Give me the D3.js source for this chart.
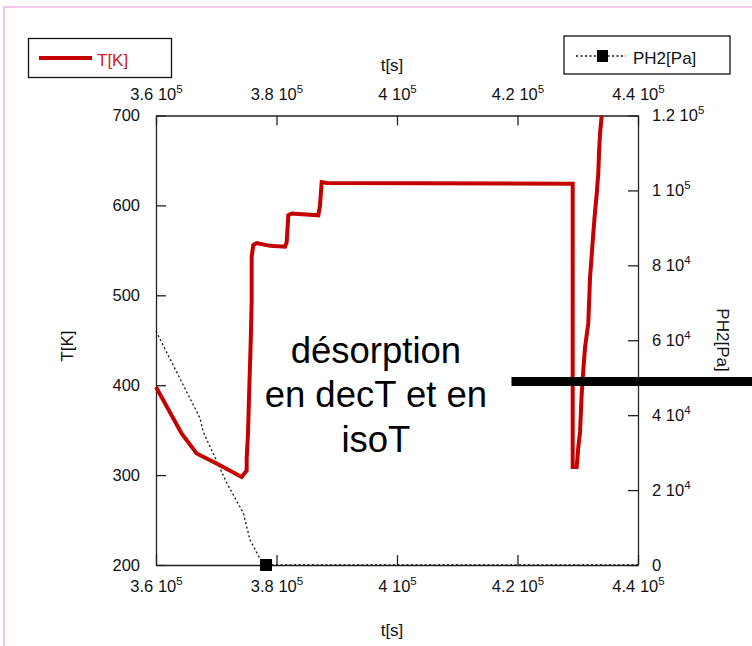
<!DOCTYPE html>
<html>
<head>
<meta charset="utf-8">
<script src="https://cdn.jsdelivr.net/npm/d3@7"></script>
<style>
	body { margin:0; background:#fff; }
	svg text { font-family:"Liberation Sans", Arial, sans-serif; fill:#111; }
</style>
</head>
<body>
<svg id="chart" width="752" height="646"></svg>
<script>

// temperature curve, t in s, T in K
var tempTime = [360000, 364270, 366750, 370620, 374220, 375050, 375050, 375270, 375440, 375720,
	375880, 375880, 376150, 376710, 378920, 381410, 381690, 381960, 382520, 386940,
	387220, 387500, 388330, 429160, 429160, 429830, 430090, 430380, 430660, 430920,
	431210, 431750, 432040, 432320, 432580, 432870, 433150, 433410, 433530, 433700, 433980];
var tempValues = [398, 346, 324, 311, 298, 305, 319, 346, 387, 448,
	494, 543, 556, 558, 555, 554, 559, 589, 591, 589,
	600, 626, 625, 624, 309, 309, 331, 348, 391, 417,
	442, 469, 520, 545, 569, 593, 613, 636, 658, 680, 700];

// hydrogen pressure, Pa
var pressTime = [360000, 367300, 367850, 371740, 374490, 375600, 377550, 378260, 440000];
var pressValues = [62400, 39200, 35500, 21900, 13900, 6700, 800, 0, 0];
var pressMarkTime = [378260];
var pressMarkValues = [0];

var xTicks = [360000, 380000, 400000, 420000, 440000];
var tTicks = [200, 300, 400, 500, 600, 700];
var pTicks = [0, 20000, 40000, 60000, 80000, 100000, 120000];

var noteLines = ["désorption", "en decT et en", "isoT"];
var noteBar = [[419000, 49000], [459000, 49000]];

var RED = "#c40000";

var svg = d3.select("#chart");
var W = 752, H = 646;
var plotL = 156, plotR = 638, plotT = 115.5, plotB = 565;

var x = d3.scaleLinear().domain([360000, 440000]).range([plotL, plotR]);
var yT = d3.scaleLinear().domain([200, 700]).range([plotB, plotT]);
var yP = d3.scaleLinear().domain([0, 120000]).range([plotB, plotT]);

// pink page border
svg.append("rect")
	.attr("x", 4).attr("y", 7)
	.attr("width", W + 20).attr("height", H + 20)
	.attr("fill", "none")
	.attr("stroke", "#f3c6ee")
	.attr("stroke-width", 2);

// "3.6 10^5" style labels
function sciLabel(sel)
{
	sel.each(function(d)
	{
		var t = d3.select(this);
		t.text(null);
		if (d == 0) { t.text("0"); return; }
		var e = Math.floor(Math.log10(d) + 1e-9);
		var m = +(d / Math.pow(10, e)).toFixed(2);
		t.append("tspan").text(m + " 10");
		t.append("tspan").attr("font-size", 11.5).attr("dy", -7).text(e);
	});
}

function styleAxis(g)
{
	g.attr("font-size", 16.5).attr("font-family", "Liberation Sans, Arial, sans-serif");
	g.select(".domain").attr("stroke", "#222").attr("stroke-width", 1.3);
	g.selectAll(".tick line").attr("stroke", "#222").attr("stroke-width", 1.3);
	g.selectAll(".tick text").attr("fill", "#111");
}

var xTop = svg.append("g")
	.attr("transform", "translate(0," + plotT + ")")
	.call(d3.axisTop(x).tickValues(xTicks).tickSizeInner(-10).tickSizeOuter(0).tickPadding(15.5));
styleAxis(xTop);
xTop.selectAll(".tick text").attr("dy", "0em").call(sciLabel);

var xBot = svg.append("g")
	.attr("transform", "translate(0," + plotB + ")")
	.call(d3.axisBottom(x).tickValues(xTicks).tickSizeInner(-10).tickSizeOuter(0).tickPadding(15.3));
styleAxis(xBot);
xBot.selectAll(".tick text").call(sciLabel);

var yLeft = svg.append("g")
	.attr("transform", "translate(" + plotL + ",0)")
	.call(d3.axisLeft(yT).tickValues(tTicks).tickSizeInner(-10).tickSizeOuter(0).tickPadding(16));
styleAxis(yLeft);

var yRight = svg.append("g")
	.attr("transform", "translate(" + plotR + ",0)")
	.call(d3.axisRight(yP).tickValues(pTicks).tickSizeInner(-10).tickSizeOuter(0).tickPadding(14));
styleAxis(yRight);
yRight.selectAll(".tick text").call(sciLabel);

// axis titles
svg.append("text").attr("x", 392).attr("y", 71).attr("text-anchor", "middle")
	.attr("font-size", 17).text("t[s]");
svg.append("text").attr("x", 392).attr("y", 636).attr("text-anchor", "middle")
	.attr("font-size", 17).text("t[s]");
svg.append("text").attr("transform", "translate(73,346) rotate(-90)").attr("text-anchor", "middle")
	.attr("font-size", 17).text("T[K]");
svg.append("text").attr("transform", "translate(717,340) rotate(90)").attr("text-anchor", "middle")
	.attr("font-size", 17).text("PH2[Pa]");

// series
var pData = d3.zip(pressTime, pressValues);
svg.append("path")
	.datum(pData)
	.attr("fill", "none")
	.attr("stroke", "#111")
	.attr("stroke-width", 1.3)
	.attr("stroke-dasharray", "2,2.5")
	.attr("d", d3.line().x(function(d){ return x(d[0]); }).y(function(d){ return yP(d[1]); }));

svg.append("g").selectAll("rect")
	.data(d3.zip(pressMarkTime, pressMarkValues))
	.join("rect")
	.attr("x", function(d){ return x(d[0]) - 6; })
	.attr("y", function(d){ return yP(d[1]) - 6; })
	.attr("width", 12).attr("height", 12)
	.attr("fill", "#000");

var tData = d3.zip(tempTime, tempValues);
svg.append("path")
	.datum(tData)
	.attr("fill", "none")
	.attr("stroke", RED)
	.attr("stroke-width", 4)
	.attr("stroke-linejoin", "miter")
	.attr("d", d3.line().x(function(d){ return x(d[0]); }).y(function(d){ return yT(d[1]); }));

// annotation
var note = svg.append("text")
	.attr("text-anchor", "middle")
	.attr("font-size", 36.5)
	.style("fill", "#000");
note.selectAll("tspan")
	.data(noteLines)
	.join("tspan")
	.attr("x", x(396500))
	.attr("y", function(d, i){ return yT(425) + i * 44.7; })
	.text(function(d){ return d; });

svg.append("line")
	.attr("x1", x(noteBar[0][0])).attr("y1", yP(noteBar[0][1]))
	.attr("x2", x(noteBar[1][0])).attr("y2", yP(noteBar[1][1]))
	.attr("stroke", "#000")
	.attr("stroke-width", 9);

// legends
var leg1 = svg.append("g");
leg1.append("rect").attr("x", 28.5).attr("y", 38.5).attr("width", 143).attr("height", 39)
	.attr("fill", "#fff").attr("stroke", "#111").attr("stroke-width", 1.3);
leg1.append("line").attr("x1", 39).attr("x2", 92).attr("y1", 58).attr("y2", 58)
	.attr("stroke", RED).attr("stroke-width", 4);
leg1.append("text").attr("x", 97).attr("y", 66).attr("font-size", 17)
	.style("fill", "#cc2020").text("T[K]");

var leg2 = svg.append("g");
leg2.append("rect").attr("x", 564).attr("y", 36).attr("width", 166).attr("height", 38)
	.attr("fill", "#fff").attr("stroke", "#111").attr("stroke-width", 1.3);
leg2.append("line").attr("x1", 576).attr("x2", 626).attr("y1", 56).attr("y2", 56)
	.attr("stroke", "#111").attr("stroke-width", 1.3).attr("stroke-dasharray", "2,2.5");
leg2.append("rect").attr("x", 597).attr("y", 50).attr("width", 11).attr("height", 12)
	.attr("fill", "#000");
leg2.append("text").attr("x", 633).attr("y", 64).attr("font-size", 17).text("PH2[Pa]");

</script>
</body>
</html>
